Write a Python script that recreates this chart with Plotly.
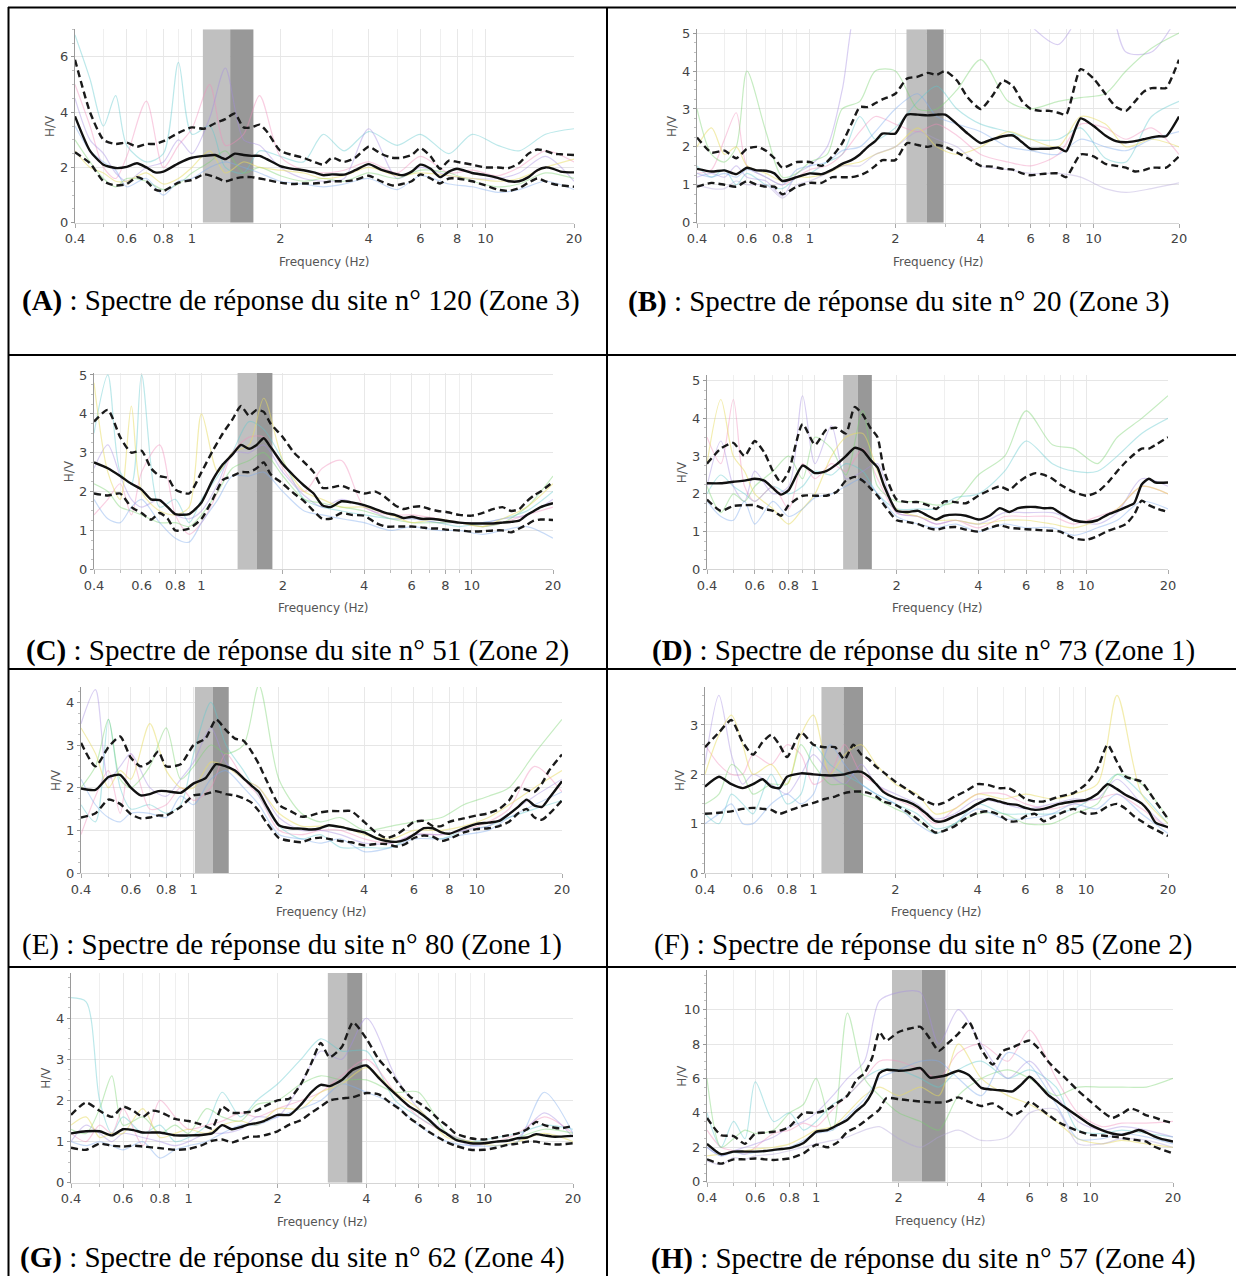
import math
import plotly.graph_objects as go

W, H = 1236, 1276

# ------------------------------------------------------------------ data
FREQ = [0.4, 0.45, 0.5, 0.55, 0.6, 0.65, 0.7, 0.75, 0.8, 0.9,
        1.0, 1.1, 1.2, 1.3, 1.4, 1.5, 1.6, 1.7, 1.8, 2.0,
        2.2, 2.4, 2.6, 2.8, 3.0, 3.3, 3.6, 4.0, 4.4, 4.8,
        5.2, 5.6, 6.0, 6.5, 7.0, 7.5, 8.0, 9.0, 10, 11,
        12, 13, 14, 15, 16, 17, 18, 20]
FREQ_IND = [0.4, 0.45, 0.5, 0.55, 0.6, 0.7, 0.8, 0.9, 1.0, 1.15, 1.3, 1.5, 1.7,
            2.0, 2.4, 2.8, 3.3, 4.0, 5.0, 6.0, 7.5, 9.0, 11, 13, 16, 20]
X_TICKS = [0.4, 0.6, 0.8, 1, 2, 4, 6, 8, 10, 20]
X_TICK_TEXT = ["0.4", "0.6", "0.8", "1", "2", "4", "6", "8", "10", "20"]
X_MINOR = [0.5, 0.7, 0.9, 3, 5, 7, 9]

# ---- (A) site 120
A_MEAN = [3.85, 2.6, 2.1, 1.98, 2.02, 2.15, 2.0, 1.82, 1.85, 2.15,
          2.35, 2.42, 2.45, 2.3, 2.5, 2.45, 2.42, 2.42, 2.3, 2.05,
          1.95, 1.9, 1.82, 1.72, 1.75, 1.74, 1.9, 2.12, 1.92, 1.8,
          1.72, 1.85, 2.1, 1.95, 1.65, 1.85, 1.95, 1.8, 1.72, 1.62,
          1.5, 1.5, 1.65, 1.9, 2.0, 1.95, 1.85, 1.82]
A_UP = [5.9, 4.0, 3.0, 2.85, 2.9, 2.75, 2.85, 2.85, 2.95, 3.25,
        3.45, 3.4, 3.6, 3.75, 3.95, 3.45, 3.45, 3.55, 3.3, 2.6,
        2.45, 2.35, 2.2, 2.1, 2.35, 2.2, 2.35, 2.75, 2.5, 2.35,
        2.35, 2.45, 2.7, 2.4, 1.95, 2.25, 2.2, 2.1, 2.0, 2.0,
        1.98, 2.15, 2.5, 2.65, 2.6, 2.5, 2.48, 2.45]
A_LO = [2.55, 2.15, 1.5, 1.35, 1.4, 1.65, 1.5, 1.2, 1.15, 1.45,
        1.55, 1.75, 1.65, 1.5, 1.6, 1.65, 1.65, 1.6, 1.55, 1.45,
        1.4, 1.42, 1.42, 1.45, 1.5, 1.5, 1.55, 1.7, 1.5, 1.35,
        1.4, 1.5, 1.75, 1.6, 1.42, 1.6, 1.6, 1.5, 1.35, 1.2,
        1.15, 1.25, 1.45, 1.6, 1.5, 1.4, 1.35, 1.3]
A_IND = [
    [6.8, 5.2, 3.5, 4.6, 2.8, 2.2, 2.5, 5.8, 3.2, 3.5, 2.0, 1.8, 2.6, 2.4, 2.2, 3.2, 2.6, 3.3, 2.8, 3.2, 2.5, 3.2, 2.8, 2.6, 3.2, 3.4],
    [5.0, 3.5, 2.0, 1.6, 2.4, 4.4, 2.0, 2.8, 3.4, 5.0, 2.8, 3.2, 4.6, 2.4, 1.9, 1.8, 1.9, 2.2, 1.8, 2.4, 1.8, 1.9, 1.7, 2.0, 2.6, 2.2],
    [4.5, 3.0, 2.5, 1.8, 1.5, 2.0, 2.2, 3.0, 2.5, 3.8, 5.6, 3.0, 2.8, 2.0, 1.6, 1.5, 1.6, 3.4, 1.6, 2.0, 1.7, 1.6, 1.6, 1.8, 2.4, 1.5],
    [3.0, 2.2, 1.6, 1.3, 1.6, 1.5, 1.2, 1.4, 1.8, 2.2, 2.6, 1.8, 2.0, 1.7, 1.5, 1.6, 1.5, 1.8, 1.6, 1.9, 1.8, 1.5, 1.3, 1.4, 1.8, 1.6],
    [2.6, 2.0, 1.8, 1.5, 1.5, 1.8, 1.4, 1.6, 2.0, 2.6, 1.8, 2.2, 2.0, 1.9, 1.8, 1.6, 1.7, 2.0, 1.7, 1.8, 1.7, 1.6, 1.5, 1.6, 2.0, 2.3],
    [3.5, 2.6, 2.2, 1.9, 1.3, 1.6, 1.0, 1.5, 1.6, 2.0, 2.2, 2.0, 1.8, 1.5, 1.4, 1.3, 1.4, 1.6, 1.2, 1.7, 1.4, 1.3, 1.1, 1.2, 1.5, 1.2],
]
A_BOX = [1.09, 1.35, 1.62]

# ---- (B) site 20
B_MEAN = [1.42, 1.35, 1.38, 1.28, 1.45, 1.38, 1.37, 1.3, 1.1, 1.2,
          1.3, 1.28, 1.4, 1.55, 1.65, 1.8, 2.0, 2.15, 2.35, 2.35,
          2.85, 2.85, 2.83, 2.85, 2.85, 2.6, 2.35, 2.1, 2.2, 2.28,
          2.3, 2.12, 1.95, 1.95, 1.95, 1.98, 1.88, 2.75, 2.55, 2.3,
          2.15, 2.12, 2.15, 2.2, 2.25, 2.28, 2.28, 2.8]
B_UP = [2.25, 1.85, 1.9, 1.7, 1.95, 2.0, 1.9, 1.7, 1.45, 1.6,
        1.6, 1.5, 1.75, 2.1, 2.6, 3.05, 3.05, 3.15, 3.25, 3.4,
        3.8, 3.85, 3.95, 3.9, 4.0, 3.75, 3.3, 3.0, 3.35, 3.75,
        3.6, 3.2, 3.0, 2.95, 2.95, 2.9, 2.85, 4.05, 3.8, 3.4,
        3.05, 2.95, 3.2, 3.45, 3.55, 3.55, 3.55, 4.3]
B_LO = [0.95, 1.05, 1.0, 0.95, 1.1, 1.0, 0.95, 0.95, 0.75, 0.95,
        1.05, 1.05, 1.2, 1.2, 1.2, 1.25, 1.35, 1.5, 1.65, 1.65,
        2.1, 2.05, 2.0, 2.05, 2.0, 1.85, 1.7, 1.5, 1.48, 1.42,
        1.4, 1.3, 1.25, 1.28, 1.3, 1.3, 1.2, 1.8, 1.75, 1.55,
        1.5, 1.45, 1.35, 1.38, 1.45, 1.45, 1.45, 1.75]
B_IND = [
    [1.5, 1.2, 1.4, 1.0, 1.3, 1.0, 0.9, 1.2, 1.3, 1.6, 1.8, 2.8, 2.2, 2.5, 3.2, 3.6, 3.0, 2.6, 2.4, 2.2, 2.2, 2.5, 1.7, 1.6, 2.8, 3.2],
    [1.3, 1.4, 2.2, 2.9, 1.5, 1.2, 1.0, 1.2, 1.4, 1.5, 1.8, 2.4, 2.8, 2.6, 2.4, 2.6, 2.3, 1.8, 1.6, 1.5, 1.8, 2.6, 2.5, 2.2, 2.5, 1.8],
    [1.2, 1.3, 1.2, 1.5, 1.2, 1.1, 0.7, 1.3, 1.5, 2.0, 3.5, 6.0, 6.0, 6.0, 6.0, 6.0, 6.0, 5.5, 6.0, 5.2, 4.7, 5.5, 6.0, 4.5, 4.5, 5.5],
    [3.0, 1.8, 1.6, 2.0, 4.0, 2.4, 1.2, 1.3, 1.6, 1.8, 3.0, 3.2, 4.0, 4.0, 3.0, 3.0, 3.5, 4.3, 3.2, 3.0, 3.2, 3.3, 3.4, 4.0, 4.6, 5.0],
    [2.0, 2.5, 1.8, 2.0, 1.5, 1.3, 1.1, 1.2, 1.2, 1.3, 1.5, 1.6, 1.8, 2.0, 2.5, 2.0, 1.8, 2.0, 2.4, 2.2, 2.0, 2.8, 2.6, 2.0, 2.2, 2.0],
    [1.3, 1.2, 1.3, 1.2, 1.4, 1.2, 1.0, 1.4, 1.5, 1.6, 1.9, 2.0, 2.4, 3.0, 3.4, 2.8, 2.6, 2.4, 2.0, 1.9, 1.8, 2.2, 2.0, 1.9, 2.2, 2.4],
    [1.0, 0.9, 0.9, 1.1, 1.0, 1.0, 0.65, 1.0, 1.1, 1.3, 1.5, 1.5, 1.8, 2.0, 2.4, 2.2, 2.0, 1.5, 1.4, 1.3, 1.3, 1.2, 0.9, 0.8, 0.9, 1.05],
]
B_BOX = [2.19, 2.58, 2.96]

# ---- (C) site 51
C_MEAN = [2.75, 2.6, 2.4, 2.2, 2.05, 1.8, 1.78, 1.6, 1.42, 1.42,
          1.72, 2.3, 2.7, 2.95, 3.2, 3.1, 3.2, 3.37, 3.15, 2.7,
          2.4, 2.15, 1.95, 1.65, 1.6, 1.75, 1.72, 1.65, 1.55, 1.45,
          1.4, 1.32, 1.35, 1.3, 1.3, 1.28, 1.25, 1.2, 1.18, 1.18,
          1.18, 1.2, 1.22, 1.25, 1.4, 1.5, 1.6, 1.7]
C_UP = [3.8, 4.1, 3.4, 3.0, 3.05, 2.6, 2.4, 2.35, 2.05, 1.95,
        2.5, 3.05, 3.5, 3.85, 4.2, 3.95, 4.1, 4.05, 3.75, 3.4,
        3.0, 2.75, 2.5, 2.1, 2.1, 2.15, 2.05, 1.95, 2.0, 1.85,
        1.65, 1.55, 1.6, 1.62, 1.55, 1.5, 1.48, 1.4, 1.38, 1.45,
        1.55, 1.6, 1.5, 1.55, 1.75, 1.9, 2.0, 2.25]
C_LO = [1.95, 1.9, 1.95, 1.6, 1.45, 1.28, 1.45, 1.3, 1.0, 1.05,
        1.3, 1.8, 2.3, 2.4, 2.5, 2.5, 2.6, 2.75, 2.45, 2.2,
        1.95, 1.75, 1.5, 1.3, 1.3, 1.45, 1.4, 1.38, 1.2, 1.1,
        1.1, 1.1, 1.1, 1.08, 1.05, 1.05, 1.02, 1.0, 0.97, 0.98,
        1.0, 1.0, 0.95, 1.05, 1.15, 1.25, 1.28, 1.27]
C_IND = [
    [3.5, 5.0, 2.5, 2.2, 5.0, 1.6, 1.8, 1.2, 1.8, 2.4, 3.0, 3.8, 3.6, 2.8, 1.8, 1.6, 1.5, 1.4, 1.3, 1.3, 1.2, 1.1, 1.2, 1.3, 1.5, 2.0],
    [1.4, 1.8, 2.2, 1.4, 2.5, 3.2, 1.4, 0.9, 1.2, 2.0, 3.0, 3.4, 3.4, 2.6, 2.0, 2.6, 2.8, 1.6, 1.4, 1.4, 1.3, 1.2, 1.1, 1.2, 1.4, 1.6],
    [2.6, 3.2, 2.4, 1.8, 1.6, 1.8, 1.4, 1.3, 1.5, 2.2, 3.0, 3.0, 3.2, 2.5, 1.9, 1.6, 1.8, 1.6, 1.3, 1.3, 1.2, 1.2, 1.2, 1.3, 1.4, 1.8],
    [2.2, 2.0, 1.6, 1.5, 1.4, 1.2, 1.2, 1.1, 1.4, 2.0, 2.6, 2.8, 3.0, 2.4, 1.8, 1.7, 1.6, 1.5, 1.3, 1.2, 1.2, 1.2, 1.1, 1.2, 1.6, 2.4],
    [4.8, 2.5, 1.8, 4.2, 2.0, 1.5, 1.4, 1.6, 4.0, 2.5, 3.0, 3.2, 4.4, 2.8, 2.0, 1.8, 1.6, 1.6, 1.4, 1.2, 1.3, 1.2, 1.1, 1.3, 1.6, 2.2],
    [1.8, 1.3, 1.2, 1.6, 1.8, 1.2, 0.8, 0.7, 1.2, 1.8, 2.4, 2.4, 2.5, 2.0, 1.5, 1.4, 1.3, 1.2, 1.0, 1.1, 1.0, 1.0, 0.9, 1.0, 1.1, 0.8],
]
C_BOX = [1.36, 1.60, 1.83]

# ---- (D) site 73
D_MEAN = [2.28, 2.28, 2.32, 2.35, 2.4, 2.35, 2.15, 1.98, 2.1, 2.75,
          2.55, 2.6, 2.78, 3.0, 3.22, 3.15, 2.9, 2.7, 2.2, 1.55,
          1.52, 1.55, 1.42, 1.32, 1.42, 1.45, 1.42, 1.32, 1.42, 1.62,
          1.52, 1.62, 1.65, 1.65, 1.62, 1.62, 1.5, 1.3, 1.25, 1.3,
          1.45, 1.55, 1.65, 1.75, 2.25, 2.4, 2.3, 2.3]
D_UP = [2.8, 3.2, 3.35, 3.0, 3.4, 3.1, 2.6, 2.3, 2.6, 3.85,
        3.3, 3.7, 3.75, 3.6, 4.3, 4.1, 3.75, 3.5, 2.6, 1.85,
        1.78, 1.78, 1.7, 1.6, 1.8, 1.78, 1.75, 1.95, 2.1, 2.2,
        2.1, 2.3, 2.45, 2.55, 2.5, 2.4, 2.25, 2.05, 1.95, 2.05,
        2.3, 2.6, 2.85, 3.05, 3.2, 3.2, 3.3, 3.5]
D_LO = [1.85, 1.55, 1.68, 1.7, 1.7, 1.6, 1.55, 1.42, 1.7, 1.95,
        1.95, 1.95, 2.05, 2.35, 2.45, 2.35, 2.15, 1.95, 1.7, 1.3,
        1.25, 1.2, 1.1, 1.05, 1.1, 1.12, 1.05, 1.0, 1.1, 1.17,
        1.1, 1.08, 1.06, 1.05, 1.03, 1.02, 1.0, 0.82, 0.78, 0.88,
        1.02, 1.1, 1.2, 1.45, 1.82, 1.7, 1.62, 1.52]
D_IND = [
    [2.0, 2.5, 2.2, 2.0, 1.8, 2.2, 2.0, 2.2, 2.6, 2.5, 2.8, 2.6, 2.0, 1.6, 1.6, 1.6, 1.9, 2.0, 2.6, 3.4, 2.8, 2.6, 2.6, 3.0, 3.6, 4.0],
    [3.5, 2.8, 4.5, 2.2, 1.8, 2.2, 1.6, 2.8, 2.4, 2.8, 2.6, 3.2, 2.4, 1.5, 1.4, 1.2, 1.3, 1.1, 1.4, 1.4, 1.4, 1.2, 1.4, 1.6, 2.2, 2.0],
    [2.2, 3.4, 2.2, 1.8, 2.6, 2.0, 2.2, 4.6, 2.8, 3.8, 2.4, 2.6, 2.8, 1.5, 1.4, 1.2, 1.3, 1.2, 1.5, 1.5, 1.5, 1.3, 1.2, 1.5, 2.4, 2.2],
    [2.2, 1.5, 2.0, 1.8, 2.2, 2.6, 3.0, 2.4, 3.5, 3.2, 2.5, 4.2, 2.2, 1.8, 1.8, 1.7, 1.8, 2.5, 3.0, 4.2, 3.3, 3.2, 2.8, 3.5, 4.0, 4.6],
    [2.8, 4.5, 3.0, 2.6, 2.0, 1.6, 1.2, 1.6, 2.0, 3.0, 3.5, 3.6, 2.6, 1.6, 1.4, 1.3, 1.3, 1.2, 1.3, 1.3, 1.2, 1.1, 1.3, 1.6, 2.2, 2.0],
    [1.8, 1.4, 1.3, 1.8, 1.2, 1.8, 1.4, 1.6, 1.9, 2.0, 2.2, 2.4, 2.0, 1.4, 1.2, 1.1, 1.2, 1.0, 1.2, 1.1, 1.1, 0.9, 1.1, 1.3, 1.8, 1.6],
]
D_BOX = [1.27, 1.44, 1.62]

# ---- (E) site 80
E_MEAN = [1.98, 1.95, 2.25, 2.3, 2.0, 1.82, 1.85, 1.92, 1.92, 1.88,
          2.1, 2.22, 2.55, 2.5, 2.4, 2.22, 2.05, 1.9, 1.6, 1.12,
          1.05, 1.04, 1.02, 1.05, 1.12, 1.08, 1.02, 0.95, 0.82, 0.75,
          0.73, 0.78, 0.9, 1.05, 1.05, 0.95, 0.92, 1.05, 1.15, 1.18,
          1.22, 1.38, 1.55, 1.72, 1.58, 1.55, 1.75, 2.15]
E_UP = [3.05, 2.5, 2.95, 3.2, 2.7, 2.5, 2.6, 2.85, 2.5, 2.55,
        3.0, 3.15, 3.6, 3.35, 3.15, 3.1, 2.85, 2.55, 2.2, 1.6,
        1.45, 1.32, 1.35, 1.42, 1.45, 1.45, 1.45, 1.2, 0.95, 0.82,
        0.9, 1.05, 1.2, 1.22, 1.1, 1.1, 1.2, 1.28, 1.35, 1.4,
        1.5, 1.7, 2.0, 1.95, 1.9, 2.1, 2.4, 2.78]
E_LO = [1.3, 1.4, 1.72, 1.62, 1.38, 1.28, 1.3, 1.35, 1.35, 1.55,
        1.82, 1.85, 1.92, 1.85, 1.82, 1.75, 1.65, 1.45, 1.2, 0.82,
        0.75, 0.72, 0.8, 0.83, 0.8, 0.75, 0.72, 0.65, 0.68, 0.68,
        0.62, 0.68, 0.82, 0.88, 0.85, 0.75, 0.8, 0.95, 1.03, 1.05,
        1.1, 1.2, 1.4, 1.5, 1.3, 1.25, 1.38, 1.7]
E_IND = [
    [1.6, 1.2, 3.6, 2.0, 1.5, 1.6, 1.4, 1.6, 2.8, 4.0, 3.0, 2.4, 1.8, 1.1, 0.8, 0.9, 0.6, 0.6, 0.6, 0.9, 0.8, 1.0, 1.1, 1.3, 1.5, 1.7],
    [0.9, 1.8, 2.4, 1.4, 2.8, 1.5, 1.6, 2.0, 1.7, 2.0, 2.8, 2.2, 1.8, 1.0, 0.9, 1.0, 1.0, 0.8, 0.7, 0.9, 0.9, 1.0, 1.2, 1.5, 2.5, 1.9],
    [3.5, 4.3, 2.2, 2.5, 2.8, 2.0, 1.8, 2.2, 2.6, 3.4, 2.6, 2.2, 2.0, 1.3, 1.0, 1.0, 0.9, 0.7, 0.7, 0.9, 0.9, 1.0, 1.1, 1.4, 1.8, 2.2],
    [2.0, 2.5, 3.6, 2.2, 2.0, 2.5, 3.4, 2.2, 2.5, 3.0, 2.8, 3.0, 4.4, 2.2, 1.4, 1.2, 1.3, 1.0, 1.1, 1.2, 1.3, 1.6, 1.8, 2.0, 2.8, 3.6],
    [3.4, 2.8, 2.0, 2.4, 2.2, 3.5, 2.4, 2.0, 2.0, 2.6, 2.5, 2.2, 2.0, 1.4, 1.1, 1.1, 1.1, 0.9, 0.8, 1.0, 1.0, 1.1, 1.3, 1.6, 2.0, 2.4],
    [2.2, 1.6, 1.3, 1.2, 1.4, 1.4, 1.3, 1.8, 1.6, 2.2, 2.4, 2.0, 1.6, 0.9, 0.8, 0.7, 0.8, 0.5, 0.6, 0.8, 0.8, 0.9, 1.0, 1.3, 1.6, 1.9],
]
E_BOX = [1.01, 1.17, 1.33]

# ---- (F) site 85
F_MEAN = [1.75, 1.95, 1.8, 1.72, 1.8, 1.9, 1.75, 1.72, 1.95, 2.02,
          2.0, 1.98, 1.98, 2.0, 2.05, 2.05, 1.95, 1.8, 1.65, 1.52,
          1.45, 1.35, 1.2, 1.05, 1.05, 1.15, 1.25, 1.4, 1.5, 1.45,
          1.4, 1.38, 1.32, 1.28, 1.3, 1.35, 1.4, 1.45, 1.48, 1.6,
          1.8, 1.7, 1.58, 1.5, 1.41, 1.25, 1.02, 0.93]
F_UP = [2.55, 2.85, 3.1, 2.65, 2.4, 2.65, 2.8, 2.6, 2.35, 2.85,
        2.6, 2.55, 2.55, 2.3, 2.6, 2.4, 2.3, 2.15, 2.05, 1.85,
        1.7, 1.55, 1.45, 1.38, 1.42, 1.55, 1.65, 1.8, 1.78, 1.72,
        1.72, 1.62, 1.5, 1.45, 1.45, 1.5, 1.55, 1.62, 1.8, 2.1,
        2.6, 2.25, 1.95, 1.9, 1.85, 1.65, 1.45, 1.1]
F_LO = [1.2, 1.22, 1.25, 1.3, 1.32, 1.3, 1.28, 1.2, 1.25, 1.35,
        1.42, 1.5, 1.55, 1.62, 1.65, 1.65, 1.62, 1.55, 1.45, 1.38,
        1.25, 1.1, 0.95, 0.82, 0.85, 0.95, 1.1, 1.22, 1.25, 1.18,
        1.05, 1.05, 1.15, 1.2, 1.05, 1.12, 1.2, 1.3, 1.2, 1.22,
        1.35, 1.4, 1.3, 1.15, 1.05, 0.95, 0.88, 0.75]
F_IND = [
    [1.2, 1.0, 1.6, 1.4, 1.2, 2.0, 1.4, 1.6, 2.6, 2.2, 2.0, 1.8, 1.6, 1.4, 1.2, 0.9, 1.0, 1.4, 1.2, 1.2, 1.2, 1.3, 1.6, 2.0, 1.6, 1.0],
    [2.6, 2.2, 2.0, 2.0, 2.4, 2.2, 2.6, 2.4, 1.8, 2.0, 2.6, 2.0, 1.8, 1.5, 1.3, 1.0, 1.3, 1.6, 1.6, 1.4, 1.3, 1.4, 1.5, 1.6, 1.3, 0.9],
    [2.2, 3.6, 2.4, 1.8, 2.0, 1.8, 1.6, 2.0, 2.4, 2.0, 1.8, 2.2, 1.8, 1.6, 1.4, 1.1, 1.2, 1.5, 1.4, 1.3, 1.4, 1.5, 1.5, 1.9, 1.4, 0.9],
    [1.4, 1.6, 2.2, 2.0, 1.6, 1.8, 1.8, 2.6, 2.2, 1.8, 1.8, 1.6, 1.5, 1.3, 1.1, 0.8, 1.0, 1.2, 1.2, 1.0, 1.0, 1.2, 1.4, 2.0, 1.8, 1.1],
    [2.0, 2.8, 3.2, 2.6, 2.0, 2.2, 1.8, 2.8, 3.2, 2.0, 2.4, 2.6, 2.2, 1.8, 1.6, 1.2, 1.3, 1.6, 1.5, 1.6, 1.5, 1.6, 1.8, 3.6, 1.6, 1.0],
    [1.0, 1.2, 1.4, 1.0, 1.0, 1.4, 1.6, 1.4, 1.6, 2.6, 2.2, 1.8, 1.6, 1.4, 1.0, 0.8, 1.0, 1.3, 1.1, 1.1, 1.2, 1.4, 1.3, 1.6, 1.2, 0.8],
]
F_BOX = [1.07, 1.29, 1.52]

# ---- (G) site 62
G_MEAN = [1.2, 1.25, 1.25, 1.15, 1.3, 1.28, 1.22, 1.22, 1.22, 1.15,
          1.15, 1.16, 1.2, 1.4, 1.3, 1.35, 1.42, 1.45, 1.5, 1.65,
          1.65, 1.9, 2.2, 2.38, 2.35, 2.5, 2.75, 2.85, 2.55, 2.28,
          2.05, 1.85, 1.72, 1.53, 1.32, 1.18, 1.05, 0.96, 0.96, 1.0,
          1.02, 1.08, 1.1, 1.18, 1.15, 1.12, 1.12, 1.14]
G_UP = [1.65, 1.95, 1.75, 1.6, 1.85, 1.75, 1.6, 1.75, 1.72, 1.55,
        1.5, 1.42, 1.32, 1.85, 1.7, 1.7, 1.72, 1.75, 1.85, 2.0,
        2.05, 2.4, 2.9, 3.4, 3.05, 3.3, 3.9, 3.5, 3.0, 2.7,
        2.35, 2.1, 1.95, 1.77, 1.55, 1.38, 1.2, 1.08, 1.05, 1.1,
        1.15, 1.2, 1.3, 1.48, 1.4, 1.35, 1.32, 1.38]
G_LO = [0.85, 0.8, 0.95, 0.9, 0.88, 0.9, 0.88, 0.86, 0.84, 0.8,
        0.82, 0.9, 1.02, 1.05, 0.98, 1.05, 1.12, 1.12, 1.15, 1.25,
        1.42, 1.52, 1.7, 1.85, 2.0, 2.05, 2.08, 2.18, 2.15, 1.95,
        1.78, 1.57, 1.42, 1.24, 1.1, 0.98, 0.9, 0.8, 0.8, 0.85,
        0.92, 0.95, 1.0, 1.0, 0.95, 0.93, 0.93, 0.96]
G_IND = [
    [4.5, 4.4, 2.0, 1.2, 1.6, 1.2, 1.4, 1.0, 1.1, 1.4, 2.2, 1.6, 2.0, 2.4, 3.0, 3.5, 3.2, 3.2, 2.0, 1.6, 1.2, 1.0, 1.1, 1.2, 1.4, 1.3],
    [1.2, 1.0, 1.4, 1.2, 1.8, 0.9, 2.0, 1.6, 1.3, 1.4, 1.5, 1.7, 1.6, 1.8, 2.0, 2.2, 2.6, 3.0, 2.2, 1.6, 1.2, 1.0, 1.0, 1.2, 1.6, 1.2],
    [1.0, 1.4, 1.2, 1.0, 1.2, 1.1, 1.0, 0.9, 1.0, 1.2, 1.2, 1.3, 1.6, 1.6, 2.4, 3.2, 3.0, 4.0, 2.6, 1.8, 1.2, 0.9, 1.0, 1.1, 1.7, 1.1],
    [1.3, 1.2, 1.8, 2.6, 1.4, 1.6, 1.2, 1.4, 1.2, 1.8, 1.6, 1.5, 1.9, 2.0, 2.4, 2.6, 2.5, 2.5, 2.2, 2.2, 1.2, 1.0, 1.0, 1.1, 1.3, 1.2],
    [1.4, 1.6, 1.1, 1.2, 1.2, 1.8, 1.1, 1.2, 1.3, 1.2, 1.4, 1.5, 1.4, 1.8, 1.8, 2.2, 2.4, 2.8, 2.2, 1.8, 1.1, 1.0, 0.9, 1.0, 1.2, 1.0],
    [1.0, 0.9, 1.0, 0.9, 0.8, 1.0, 0.6, 0.8, 0.9, 1.0, 1.2, 1.4, 1.4, 1.6, 1.8, 2.0, 2.4, 2.2, 1.9, 1.4, 1.0, 0.9, 0.9, 1.0, 2.2, 1.2],
]
G_BOX = [2.96, 3.44, 3.87]

# ---- (H) site 57
H_MEAN = [2.2, 1.6, 1.75, 1.75, 1.75, 1.78, 1.85, 1.9, 1.95, 2.25,
          2.9, 3.0, 3.3, 3.6, 4.1, 4.5, 5.2, 6.3, 6.5, 6.45,
          6.5, 6.6, 6.05, 6.1, 6.2, 6.45, 6.2, 5.45, 5.35, 5.3,
          5.25, 5.65, 6.1, 5.6, 5.05, 4.7, 4.37, 3.8, 3.3, 3.0,
          2.8, 2.72, 2.85, 3.0, 2.85, 2.65, 2.5, 2.33]
H_UP = [3.7, 2.7, 2.65, 2.2, 2.8, 2.85, 2.9, 3.0, 3.2, 4.0,
        4.0, 4.2, 4.6, 5.0, 5.9, 6.3, 7.2, 8.7, 8.2, 8.7,
        8.9, 9.0, 8.3, 7.6, 8.0, 8.6, 9.3, 7.7, 6.8, 7.6,
        7.8, 8.05, 8.2, 7.7, 7.0, 6.5, 6.1, 5.3, 4.66, 4.1,
        3.7, 3.95, 4.25, 4.1, 3.85, 3.75, 3.6, 3.4]
H_LO = [1.3, 1.05, 1.3, 1.3, 1.35, 1.3, 1.26, 1.3, 1.35, 1.65,
        2.15, 2.0, 2.3, 2.9, 3.15, 3.5, 3.85, 4.2, 4.85, 4.8,
        4.72, 4.66, 4.62, 4.6, 4.65, 4.9, 4.65, 4.4, 4.55, 4.2,
        3.85, 4.1, 4.65, 4.3, 3.9, 3.55, 3.3, 2.95, 2.72, 2.68,
        2.62, 2.55, 2.46, 2.4, 2.33, 2.05, 1.9, 1.65]
H_IND = [
    [4.0, 2.0, 3.5, 2.5, 5.8, 3.5, 4.0, 3.0, 3.5, 4.5, 5.0, 6.0, 6.5, 6.5, 6.0, 5.5, 6.5, 7.0, 6.0, 6.5, 5.5, 3.0, 2.8, 3.0, 2.8, 2.6],
    [3.0, 2.0, 1.8, 1.6, 2.0, 2.8, 3.0, 3.4, 3.2, 4.2, 5.0, 6.0, 7.0, 7.0, 6.5, 6.0, 7.5, 8.0, 7.0, 8.8, 6.0, 4.0, 3.2, 3.4, 3.4, 3.5],
    [2.0, 1.5, 1.8, 2.0, 2.2, 2.6, 3.2, 3.5, 4.0, 5.0, 6.0, 7.0, 10.5, 11.0, 11.0, 8.0, 10.0, 8.0, 6.0, 7.0, 5.0, 3.5, 3.0, 3.2, 3.0, 2.6],
    [6.0, 2.0, 2.5, 3.0, 2.8, 3.0, 4.0, 4.5, 6.0, 3.0, 9.8, 6.0, 5.0, 4.0, 3.5, 3.0, 5.0, 6.0, 6.5, 6.0, 5.0, 5.5, 5.5, 5.5, 5.5, 6.0],
    [1.5, 1.6, 1.7, 1.8, 1.9, 2.0, 2.2, 2.6, 3.0, 3.2, 4.0, 5.0, 5.5, 5.0, 5.5, 5.0, 8.0, 6.0, 5.0, 4.5, 3.5, 2.5, 2.2, 2.4, 2.2, 2.0],
    [2.0, 1.5, 1.7, 1.6, 1.7, 1.8, 2.0, 2.4, 2.8, 3.0, 3.8, 4.8, 6.0, 6.5, 7.0, 7.0, 6.0, 5.0, 7.5, 6.8, 4.5, 2.5, 2.5, 2.8, 2.6, 2.2],
    [1.2, 1.0, 1.4, 1.3, 1.5, 1.6, 1.8, 2.0, 2.2, 2.4, 2.6, 3.0, 3.2, 2.5, 2.0, 2.6, 3.0, 2.4, 2.6, 4.0, 4.2, 2.2, 2.2, 2.5, 2.4, 2.0],
]
H_BOX = [1.89, 2.43, 2.96]

CAPTION_A = "<b>(A)</b> : Spectre de réponse du site n° 120 (Zone 3)"
CAPTION_B = "<b>(B)</b> : Spectre de réponse du site n° 20 (Zone 3)"
CAPTION_C = "<b>(C)</b> : Spectre de réponse du site n° 51 (Zone 2)"
CAPTION_D = "<b>(D)</b> : Spectre de réponse du site n° 73 (Zone 1)"
CAPTION_E = "(E) : Spectre de réponse du site n° 80 (Zone 1)"
CAPTION_F = "(F) : Spectre de réponse du site n° 85 (Zone 2)"
CAPTION_G = "<b>(G)</b> : Spectre de réponse du site n° 62 (Zone 4)"
CAPTION_H = "<b>(H)</b> : Spectre de réponse du site n° 57 (Zone 4)"

# ------------------------------------------------------------------ layout (pixels)
PANELS = [
    dict(mean=A_MEAN, up=A_UP, lo=A_LO, ind=A_IND, box=A_BOX, cap=CAPTION_A,
         x0=75, x1=574, ybot=222.7, ytop=29.3, ymax=7.0, yticks=[0, 2, 4, 6], yminor=0.5,
         cx=20, cy=300, canchor="left"),
    dict(mean=B_MEAN, up=B_UP, lo=B_LO, ind=B_IND, box=B_BOX, cap=CAPTION_B,
         x0=697, x1=1179, ybot=222.7, ytop=29.3, ymax=5.1, yticks=[0, 1, 2, 3, 4, 5], yminor=0.25,
         cx=626, cy=302, canchor="left"),
    dict(mean=C_MEAN, up=C_UP, lo=C_LO, ind=C_IND, box=C_BOX, cap=CAPTION_C,
         x0=94, x1=553, ybot=569.3, ytop=373, ymax=5.05, yticks=[0, 1, 2, 3, 4, 5], yminor=0.25,
         cx=24, cy=650, canchor="left"),
    dict(mean=D_MEAN, up=D_UP, lo=D_LO, ind=D_IND, box=D_BOX, cap=CAPTION_D,
         x0=707, x1=1168, ybot=569.3, ytop=375, ymax=5.15, yticks=[0, 1, 2, 3, 4, 5], yminor=0.25,
         cx=923, cy=650, canchor="center"),
    dict(mean=E_MEAN, up=E_UP, lo=E_LO, ind=E_IND, box=E_BOX, cap=CAPTION_E,
         x0=81, x1=562, ybot=873, ytop=687, ymax=4.36, yticks=[0, 1, 2, 3, 4], yminor=0.25,
         cx=20, cy=945, canchor="left"),
    dict(mean=F_MEAN, up=F_UP, lo=F_LO, ind=F_IND, box=F_BOX, cap=CAPTION_F,
         x0=705, x1=1168, ybot=873, ytop=687, ymax=3.77, yticks=[0, 1, 2, 3], yminor=0.2,
         cx=923, cy=945, canchor="center"),
    dict(mean=G_MEAN, up=G_UP, lo=G_LO, ind=G_IND, box=G_BOX, cap=CAPTION_G,
         x0=71, x1=573, ybot=1182.7, ytop=973, ymax=5.1, yticks=[0, 1, 2, 3, 4], yminor=0.25,
         cx=18, cy=1257, canchor="left"),
    dict(mean=H_MEAN, up=H_UP, lo=H_LO, ind=H_IND, box=H_BOX, cap=CAPTION_H,
         x0=707, x1=1173, ybot=1181.7, ytop=970, ymax=12.3, yticks=[0, 2, 4, 6, 8, 10], yminor=0.5,
         cx=923, cy=1258, canchor="center"),
]

IND_COLORS = ["rgba(95,200,205,0.42)", "rgba(240,140,185,0.42)", "rgba(165,140,225,0.42)",
              "rgba(120,210,110,0.42)", "rgba(232,220,95,0.5)", "rgba(125,170,235,0.42)",
              "rgba(175,160,215,0.4)"]
BOX_LIGHT = "rgb(192,192,192)"
BOX_DARK = "rgb(152,152,152)"
TICK_FONT = dict(family="DejaVu Sans", size=13, color="#444444")
TITLE_FONT = dict(family="DejaVu Sans", size=12, color="#555555")


def px_x(x):
    return x / W


def px_y(y):
    return 1 - y / H


fig = go.Figure()
annotations = []
XR = [math.log10(0.4), math.log10(20)]

for i, p in enumerate(PANELS):
    n = i + 1
    xa = "x" if n == 1 else f"x{n}"
    ya = "y" if n == 1 else f"y{n}"
    top = p["ymax"]
    b0, b1, b2 = p["box"]
    # shaded f0 boxes
    fig.add_trace(go.Scatter(x=[b0, b1, b1, b0, b0], y=[0, 0, top, top, 0], mode="lines",
                             fill="toself", fillcolor=BOX_LIGHT, line=dict(width=0),
                             xaxis=xa, yaxis=ya, hoverinfo="skip", showlegend=False))
    fig.add_trace(go.Scatter(x=[b1, b2, b2, b1, b1], y=[0, 0, top, top, 0], mode="lines",
                             fill="toself", fillcolor=BOX_DARK, line=dict(width=0),
                             xaxis=xa, yaxis=ya, hoverinfo="skip", showlegend=False))
    # individual windows
    for k, curve in enumerate(p["ind"]):
        fig.add_trace(go.Scatter(x=FREQ_IND, y=curve, mode="lines",
                                 line=dict(color=IND_COLORS[k % len(IND_COLORS)], width=1.2,
                                           shape="spline", smoothing=0.8),
                                 xaxis=xa, yaxis=ya, hoverinfo="skip", showlegend=False))
    # mean +/- std
    for arr in (p["lo"], p["up"]):
        fig.add_trace(go.Scatter(x=FREQ, y=arr, mode="lines",
                                 line=dict(color="#1a1a1a", width=2.4, dash="7px,4px",
                                           shape="spline", smoothing=0.6),
                                 xaxis=xa, yaxis=ya, hoverinfo="skip", showlegend=False))
    fig.add_trace(go.Scatter(x=FREQ, y=p["mean"], mode="lines",
                             line=dict(color="#111111", width=2.4, shape="spline", smoothing=0.6),
                             xaxis=xa, yaxis=ya, hoverinfo="skip", showlegend=False))

    xkey = "xaxis" if n == 1 else f"xaxis{n}"
    ykey = "yaxis" if n == 1 else f"yaxis{n}"
    fig.update_layout(**{
        xkey: dict(type="log", range=XR, domain=[px_x(p["x0"]), px_x(p["x1"])], anchor=ya,
                   automargin=False,
                   tickmode="array", tickvals=X_TICKS, ticktext=X_TICK_TEXT,
                   ticks="outside", ticklen=4, tickcolor="#aaaaaa", tickfont=TICK_FONT,
                   showgrid=True, gridcolor="#e8e8e8", gridwidth=1,
                   minor=dict(tickmode="array", tickvals=X_MINOR, ticks="outside", ticklen=3,
                              tickcolor="#bbbbbb", showgrid=True, gridcolor="#efefef"),
                   showline=True, linecolor="#d5d5d5", linewidth=1, zeroline=False,
                   fixedrange=True),
        ykey: dict(range=[0, top], domain=[px_y(p["ybot"]), px_y(p["ytop"])], anchor=xa,
                   automargin=False,
                   tickmode="array", tickvals=p["yticks"], ticks="outside", ticklen=3,
                   tickcolor="#999999", tickfont=TICK_FONT,
                   showgrid=True, gridcolor="#e6e6e6", gridwidth=1,
                   minor=dict(tickmode="linear", tick0=0, dtick=p["yminor"], ticks="outside",
                              ticklen=2, tickcolor="#c0c0c0", showgrid=False),
                   showline=True, linecolor="#9a9a9a", linewidth=1, zeroline=False,
                   fixedrange=True),
    })
    # axis titles
    annotations.append(dict(text="Frequency (Hz)", xref="paper", yref="paper",
                            x=px_x((p["x0"] + p["x1"]) / 2), y=px_y(p["ybot"] + 39),
                            xanchor="center", yanchor="middle", showarrow=False,
                            font=TITLE_FONT))
    annotations.append(dict(text="H/V", xref="paper", yref="paper", textangle=-90,
                            x=px_x(p["x0"] - 25), y=px_y((p["ybot"] + p["ytop"]) / 2),
                            xanchor="center", yanchor="middle", showarrow=False,
                            font=TITLE_FONT))
    # caption
    annotations.append(dict(text=p["cap"], xref="paper", yref="paper",
                            x=px_x(p["cx"]), y=px_y(p["cy"]),
                            xanchor=p["canchor"], yanchor="middle", showarrow=False,
                            font=dict(family="Liberation Serif", size=29, color="#000000")))

# table rules
LW = 2
shapes = []
for y in (7.5, 355, 669, 967):
    shapes.append(dict(type="line", xref="paper", yref="paper", x0=px_x(8), x1=1.0,
                       y0=px_y(y), y1=px_y(y), line=dict(color="black", width=LW)))
for x in (8.5, 607):
    shapes.append(dict(type="line", xref="paper", yref="paper", x0=px_x(x), x1=px_x(x),
                       y0=px_y(7), y1=0.0, line=dict(color="black", width=LW)))

fig.update_layout(width=W, height=H,
                  margin=dict(l=0, r=0, t=0, b=0, pad=0, autoexpand=False),
                  paper_bgcolor="white", plot_bgcolor="white", showlegend=False,
                  annotations=annotations, shapes=shapes)

fig.write_html("out.html", config={"displayModeBar": False},
               post_script="document.body.style.margin='0';document.body.style.overflow='hidden';")
